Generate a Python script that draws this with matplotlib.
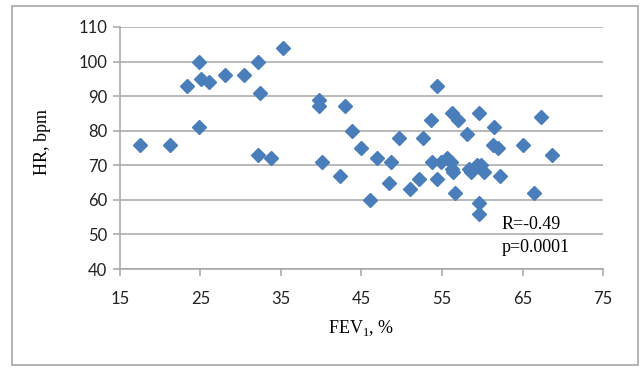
import matplotlib
matplotlib.use("Agg")
import matplotlib.pyplot as plt
from matplotlib.patches import Rectangle

# ── Data (FEV1 %, HR bpm) ────────────────────────────────────────────────────
fev1 = [17.5, 21.2, 23.3, 24.8, 25.1, 26.0, 24.8, 28.1, 30.4, 32.1,
        32.4, 32.2, 33.7, 35.2, 39.7, 39.7, 40.1, 42.9, 42.3, 43.8,
        45.0, 46.1, 46.9, 48.7, 48.4, 49.6, 51.0, 52.2, 52.7, 53.6,
        53.8, 54.4, 54.4, 54.9, 55.6, 56.1, 56.2, 57.0, 56.3, 56.4,
        56.6, 58.1, 58.4, 58.6, 59.4, 59.6, 59.9, 60.2, 59.6, 59.6,
        61.5, 61.3, 62.0, 62.2, 65.0, 66.4, 67.3, 68.7]
hr = [76, 76, 93, 100, 95, 94, 81, 96, 96, 100,
      91, 73, 72, 104, 89, 87, 71, 87, 67, 80,
      75, 60, 72, 71, 65, 78, 63, 66, 78, 83,
      71, 93, 66, 71, 72, 71, 85, 83, 69, 68,
      62, 79, 69, 68, 70, 85, 70, 68, 59, 56,
      81, 76, 75, 67, 76, 62, 84, 73]

x_ticks = [15, 25, 35, 45, 55, 65, 75]
y_ticks = [40, 50, 60, 70, 80, 90, 100, 110]

r_text = "R=-0.49"
p_text = "p=0.0001"

# ── Style ────────────────────────────────────────────────────────────────────
BLUE = "#4A7EBB"
GRID = "#A6A6A6"
plt.rcParams["mathtext.fontset"] = "custom"
plt.rcParams["mathtext.rm"] = "Liberation Serif"

fig = plt.figure(figsize=(6.43, 3.68), dpi=100)
fig.patch.set_facecolor("white")

# outer chart border
fig.patches.append(Rectangle((0.019, 0.008), 0.973, 0.976, transform=fig.transFigure,
                             fill=False, edgecolor=GRID, lw=1.2))

ax = fig.add_axes([0.1866, 0.269, 0.7512, 0.6577])
ax.plot(fev1, hr, ls="none", marker="D", ms=7.2, color=BLUE, mec=BLUE, zorder=3)

ax.set_xlim(15, 75)
ax.set_ylim(40, 110)
ax.set_xticks(x_ticks)
ax.set_yticks(y_ticks)

ax.grid(axis="y", color=GRID, lw=1.1)
ax.set_axisbelow(True)
for side in ["top", "right"]:
    ax.spines[side].set_visible(False)
for side in ["left", "bottom"]:
    ax.spines[side].set_color(GRID)
    ax.spines[side].set_linewidth(1.1)

ax.tick_params(axis="both", color=GRID, length=5, width=1.1, direction="out",
               labelsize=12, labelcolor="#222222")
ax.tick_params(axis="y", pad=4)
ax.tick_params(axis="x", pad=11)
for lbl in ax.get_xticklabels() + ax.get_yticklabels():
    lbl.set_fontfamily("Lato")

ax.set_xlabel(r"FEV$_1$, %", family="Liberation Serif", fontsize=13, labelpad=8)
ax.set_ylabel("HR, bpm", family="Liberation Serif", fontsize=13)
ax.yaxis.set_label_coords(-0.142, 0.525)

ax.text(62.4, 53.0, r_text, family="Liberation Serif", fontsize=13, va="center")
ax.text(62.4, 46.1, p_text, family="Liberation Serif", fontsize=13, va="center")

plt.savefig("out.png", dpi=100, facecolor="white")
